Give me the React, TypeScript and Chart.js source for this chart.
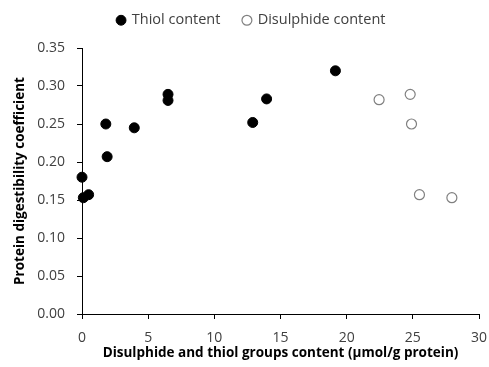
import React, { useEffect, useRef } from "react";
import { Chart, registerables } from "chart.js";

Chart.register(...registerables);

// Thiol content (μmol/g protein) vs protein digestibility coefficient
const thiolX = [0, 0.1, 0.5, 1.8, 1.9, 3.95, 6.5, 6.5, 12.9, 13.95, 19.15];
const thiolY = [0.180, 0.153, 0.157, 0.250, 0.207, 0.245, 0.289, 0.281, 0.252, 0.283, 0.320];

// Disulphide content (μmol/g protein) vs protein digestibility coefficient
const disulX = [22.45, 24.8, 24.9, 25.5, 27.95];
const disulY = [0.282, 0.289, 0.250, 0.157, 0.153];

const xTicks = { min: 0, max: 30, step: 5 };
const yTicks = { min: 0, max: 0.35, step: 0.05 };

const FONT = "'Open Sans', 'Liberation Sans', sans-serif";
const TEXT = "#404040";

// Keeps a fixed band for the legend above the plot area and centres its row
const legendBand = {
  id: "legendBand",
  afterInit(chart: any) {
    const lg = chart.legend;
    if (!lg) return;
    const fit = lg.fit.bind(lg);
    lg.fit = () => {
      fit();
      lg.height = 58;
      if (lg.lineWidths && lg.lineWidths.length) {
        lg.lineWidths[0] -= 24;
      }
    };
  },
};

export default function App() {
  const ref = useRef<HTMLCanvasElement | null>(null);

  useEffect(() => {
    if (!ref.current) return;
    const chart = new Chart(ref.current, {
      type: "scatter",
      data: {
        datasets: [
          {
            label: "Thiol content",
            data: thiolX.map((x, i) => ({ x, y: thiolY[i] })),
            pointRadius: 5,
            pointBackgroundColor: "#000000",
            pointBorderColor: "#000000",
            pointBorderWidth: 1,
            clip: false,
          },
          {
            label: "Disulphide content",
            data: disulX.map((x, i) => ({ x, y: disulY[i] })),
            pointRadius: 5,
            pointBackgroundColor: "#ffffff",
            pointBorderColor: "#808080",
            pointBorderWidth: 1.2,
            clip: false,
          },
        ],
      },
      plugins: [legendBand],
      options: {
        animation: false,
        responsive: true,
        maintainAspectRatio: false,
        layout: { padding: { left: 0, right: 10, top: -10, bottom: 0 } },
        plugins: {
          tooltip: { enabled: false },
          legend: {
            position: "top",
            labels: {
              usePointStyle: true,
              pointStyle: "circle",
              boxWidth: 7,
              boxHeight: 7,
              padding: 23,
              color: TEXT,
              font: { family: FONT, size: 14.5 },
            },
          },
        },
        scales: {
          x: {
            type: "linear",
            min: xTicks.min,
            max: xTicks.max,
            afterFit: (s: any) => {
              s.height = 53;
              s.paddingLeft = 0;
              s.paddingRight = 0;
            },
            border: { color: "#000000", width: 1 },
            grid: { drawOnChartArea: false, drawTicks: true, tickLength: 5, color: "#000000" },
            ticks: {
              stepSize: xTicks.step,
              color: TEXT,
              font: { family: FONT, size: 14 },
              padding: 11,
              maxRotation: 0,
            },
            title: {
              display: true,
              text: "Disulphide and thiol groups content (μmol/g protein)",
              color: "#000000",
              font: { family: FONT, size: 13.5, weight: "bold" },
              padding: { top: 0, bottom: 6 },
            },
          },
          y: {
            type: "linear",
            min: yTicks.min,
            max: yTicks.max,
            afterFit: (s: any) => {
              s.width = 82;
            },
            border: { color: "#000000", width: 1 },
            grid: { drawOnChartArea: false, drawTicks: true, tickLength: 5, color: "#000000" },
            ticks: {
              stepSize: yTicks.step,
              color: TEXT,
              font: { family: FONT, size: 14 },
              padding: 12,
              callback: (v: any) => Number(v).toFixed(2),
            },
            title: {
              display: true,
              text: "Protein digestibility coefficient",
              color: "#000000",
              font: { family: FONT, size: 13.5, weight: "bold" },
              padding: { top: 12, bottom: 0 },
            },
          },
        },
      },
    });
    return () => chart.destroy();
  }, []);

  return (
    <div style={{ position: "fixed", left: 0, top: 0, width: 489, height: 367, background: "#ffffff" }}>
      <canvas ref={ref} />
    </div>
  );
}
